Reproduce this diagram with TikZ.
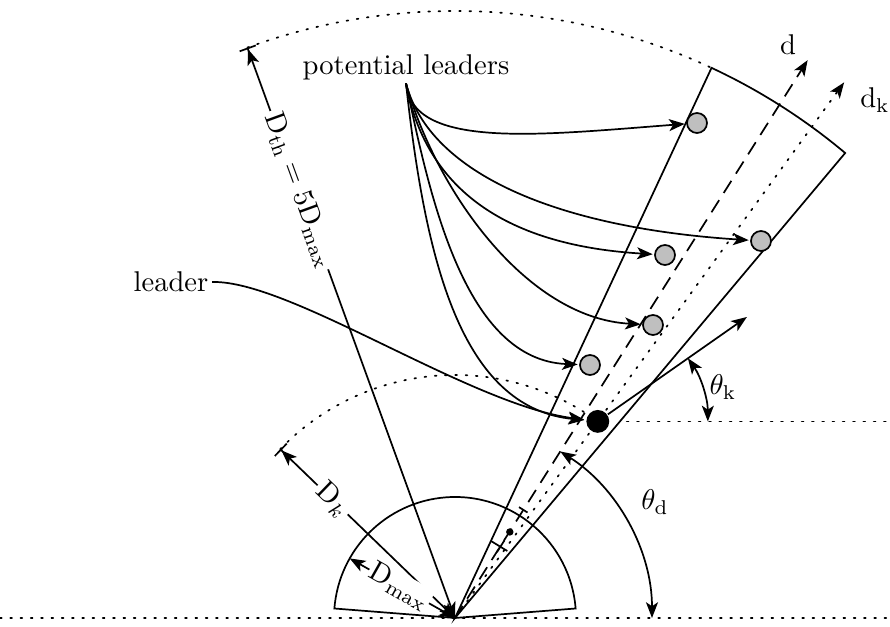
\documentclass[tikz,border=0pt]{standalone}
\usetikzlibrary{arrows.meta,calc}

\tikzset{
  pl/.style={circle, draw, fill=black!25, minimum size=7pt, inner sep=0pt},
  me/.style={circle, fill=black, minimum size=8pt, inner sep=0pt},
  dotline/.style={dash pattern=on 0.6pt off 3pt, line cap=round},
  dashline/.style={dash pattern=on 5pt off 3pt},
  link/.style={->, shorten >=0.5pt},
}

\begin{document}
\begin{tikzpicture}[x=0.35pt, y=0.35pt, line width=0.6pt,
  >={Stealth[length=5.5pt,width=4.2pt,inset=1.4pt]}]
  \useasboundingbox (-455,-9) rectangle (435,618);

  \coordinate (O) at (0,0);
  \coordinate (dth) at (110:607);
  \coordinate (dk) at (136:243);
  \coordinate (dm) at (150.5:121);
  \coordinate (d) at (57.7:660);
  \coordinate (dkk) at (54:662);
  \coordinate (rim) at (435,0);

  % Distances
  \draw[{Bar[width=6pt]Stealth[length=5.5pt,width=4.2pt,inset=1.4pt]}-{Stealth[length=5.5pt,width=4.2pt,inset=1.4pt]}]
    (dth) -- node[sloped, fill=white, inner sep=1pt, pos=0.25] {$\mathrm{D}_\mathrm{th} = 5\mathrm{D}_\mathrm{max}$} (O);
  \draw[{Bar[width=6pt]Stealth[length=5.5pt,width=4.2pt,inset=1.4pt]}-{Stealth[length=5.5pt,width=4.2pt,inset=1.4pt]}]
    (dk) -- node[sloped, fill=white, inner sep=1pt, pos=0.3] {$\mathrm{D}_k$} (O);
  \draw[<->] (dm) -- node[sloped, fill=white, inner sep=0.5pt, pos=0.47] {$\mathrm{D}_\mathrm{max}$} (O);

  % Ranges
  \draw (O) -- (4.5:121) arc[start angle=4.5, end angle=175.5, radius=121] -- cycle;
  \draw[dotline] (dth) arc[start angle=110, end angle=65, radius=607];
  \draw[dotline] (dk) arc[start angle=136, end angle=54, radius=243];
  \draw[dotline] (-455,0) -- (rim);

  % Sector
  \draw (O) -- (65:607) arc[start angle=65, end angle=50, radius=607] -- cycle;
  \draw[dashline, ->] (O) -- (d);
  \draw[dotline, ->] (O) -- (dkk);
  \node (dlbl) at (333,573) {$\mathrm{d}$};
  \node (dklbl) at (420,518) {$\mathrm{d}_\mathrm{k}$};

  % Small cell
  \draw (65:85) -- (52:85);
  \draw (57.5:78) -- (57.5:92);
  \draw (55.5:128) -- (60:128);
  \fill (57.5:102) circle[radius=1.3pt];

  % Nodes
  \node[me] (self) at (54:243) {};
  \node[pl] (n1) at (242,495) {};
  \node[pl] (n2) at (306,377) {};
  \node[pl] (n3) at (210,363) {};
  \node[pl] (n4) at (198,293) {};
  \node[pl] (n5) at (135,253) {};

  % Angles
  \draw[<->] (197,0) arc[start angle=0, end angle=57.7, radius=197];
  \node (thd) at (200,116) {$\theta_\mathrm{d}$};
  \coordinate (hd) at ($(self)+(35:182)$);
  \draw[->] (self) -- (hd);
  \draw[dotline] ($(self)+(29,0)$) -- (self -| rim);
  \draw[<->] ($(self)+(110,0)$) arc[start angle=0, end angle=35, radius=110];
  \node (thk) at (268,231) {$\theta_\mathrm{k}$};

  % Labels
  \node[inner sep=1pt] (pltxt) at (-49,551) {potential leaders};
  \node[inner sep=1pt] (ldtxt) at (-284,336) {leader};
  \draw[link] (pltxt.south) .. controls (-43,468) and (85,483) .. (n1);
  \draw[link] (pltxt.south) .. controls (-25,443) and (105,390) .. (n2);
  \draw[link] (pltxt.south) .. controls (-30,433) and (45,373) .. (n3);
  \draw[link] (pltxt.south) .. controls (-20,430) and (70,300) .. (n4);
  \draw[link] (pltxt.south) .. controls (-25,420) and (10,258) .. (n5);
  \draw[link] (pltxt.south) .. controls (-30,360) and (5,210) .. (self);
  \draw[link] (ldtxt.east) .. controls (-165,338) and (15,213) .. (self);
\end{tikzpicture}
\end{document}
